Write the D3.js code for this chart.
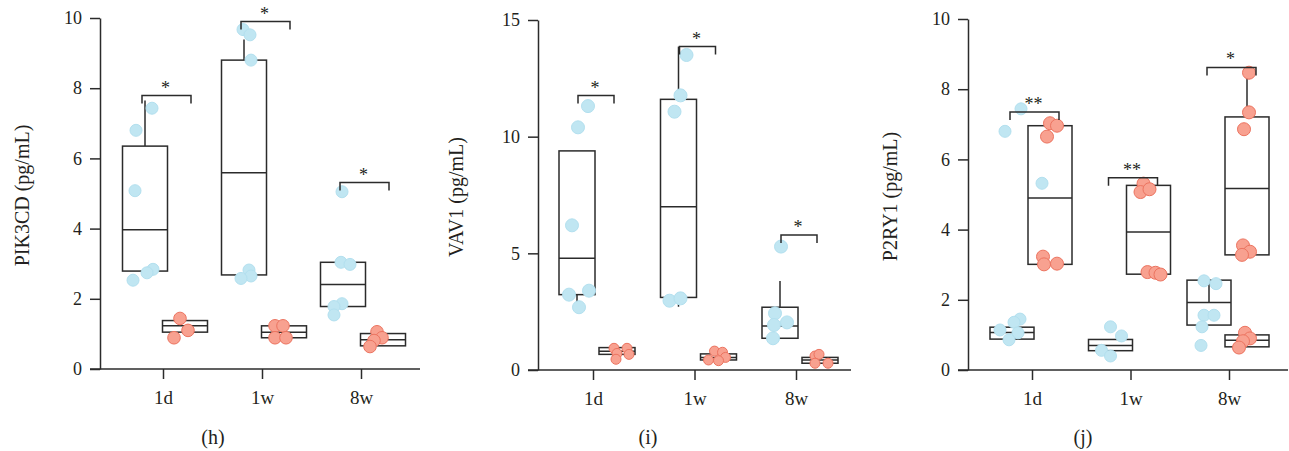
<!DOCTYPE html>
<html>
<head>
<meta charset="utf-8">
<script src="https://cdn.jsdelivr.net/npm/d3@7"></script>
<style>
  body { margin: 0; background: #fff; }
  svg { display: block; }
  text { font-family: "Liberation Serif", "Times New Roman", serif; fill: #231f20; }
</style>
</head>
<body>
<svg id="chart" width="1289" height="451"></svg>
<script>
// ---- data -------------------------------------------------------------
const categories = ["1d", "1w", "8w"];

const pik3cdTicks = [0, 2, 4, 6, 8, 10];
const vav1Ticks = [0, 5, 10, 15];
const p2ry1Ticks = [0, 2, 4, 6, 8, 10];

// boxes: [category, group, q1, median, q3, whiskerLow, whiskerHigh]
const pik3cdBoxes = [
  ["1d", "A", 2.79, 3.97, 6.35, null, 7.65],
  ["1d", "B", 1.05, 1.23, 1.38, null, null],
  ["1w", "A", 2.68, 5.59, 8.80, null, 9.39],
  ["1w", "B", 0.89, 1.05, 1.23, null, null],
  ["8w", "A", 1.78, 2.41, 3.04, null, null],
  ["8w", "B", 0.66, 0.83, 1.01, null, null]
];
const vav1Boxes = [
  ["1d", "A", 3.23, 4.79, 9.39, 2.64, null],
  ["1d", "B", 0.67, 0.80, 0.96, null, null],
  ["1w", "A", 3.11, 7.00, 11.60, 2.71, 13.86],
  ["1w", "B", 0.43, 0.54, 0.69, null, null],
  ["8w", "A", 1.36, 1.89, 2.69, null, 3.81],
  ["8w", "B", 0.29, 0.43, 0.54, null, null]
];
const p2ry1Boxes = [
  ["1d", "A", 0.88, 1.07, 1.22, null, null],
  ["1d", "B", 3.01, 4.90, 6.96, null, null],
  ["1w", "A", 0.55, 0.70, 0.87, null, null],
  ["1w", "B", 2.73, 3.93, 5.26, null, null],
  ["8w", "A", 1.28, 1.92, 2.56, null, 1.92],
  ["8w", "B", 0.66, 0.85, 1.00, null, null],
  ["8w", "B", 3.28, 5.17, 7.21, null, 8.35]
];

// points: [category, group, value, jitter]
const pik3cdPoints = [
  ["1d", "A", 7.43, 7], ["1d", "A", 6.80, -9], ["1d", "A", 5.08, -10],
  ["1d", "A", 2.84, 8], ["1d", "A", 2.74, 2], ["1d", "A", 2.53, -12],
  ["1d", "B", 1.44, -5], ["1d", "B", 1.10, 3], ["1d", "B", 0.89, -11],
  ["1w", "A", 9.67, -1], ["1w", "A", 9.52, 6], ["1w", "A", 8.80, 7],
  ["1w", "A", 2.82, 5], ["1w", "A", 2.65, 7], ["1w", "A", 2.58, -3],
  ["1w", "B", 1.23, -9], ["1w", "B", 1.23, -1], ["1w", "B", 0.89, -9], ["1w", "B", 0.89, 2],
  ["8w", "A", 5.05, -1], ["8w", "A", 3.04, -2], ["8w", "A", 2.98, 7],
  ["8w", "A", 1.86, -1], ["8w", "A", 1.78, -9], ["8w", "A", 1.54, -9],
  ["8w", "B", 1.06, -6], ["8w", "B", 0.89, -1], ["8w", "B", 0.81, -9], ["8w", "B", 0.64, -13]
];
const vav1Points = [
  ["1d", "A", 11.31, 11], ["1d", "A", 10.40, 1], ["1d", "A", 6.20, -5],
  ["1d", "A", 3.23, -8], ["1d", "A", 3.40, 12], ["1d", "A", 2.69, 2],
  ["1d", "B", 0.93, -3], ["1d", "B", 0.93, 10], ["1d", "B", 0.71, 0], ["1d", "B", 0.67, 12], ["1d", "B", 0.46, -1],
  ["1w", "A", 13.50, 8], ["1w", "A", 11.77, 2], ["1w", "A", 11.07, -4],
  ["1w", "A", 2.97, -9], ["1w", "A", 3.07, 2],
  ["1w", "B", 0.81, -4], ["1w", "B", 0.76, 4], ["1w", "B", 0.54, 7], ["1w", "B", 0.43, -10], ["1w", "B", 0.40, 0],
  ["8w", "A", 5.29, 1], ["8w", "A", 2.43, -5], ["8w", "A", 2.04, 7], ["8w", "A", 1.93, -6], ["8w", "A", 1.36, -7],
  ["8w", "B", 0.60, -5], ["8w", "B", 0.67, -1], ["8w", "B", 0.29, -5], ["8w", "B", 0.29, 8]
];
const p2ry1Points = [
  ["1d", "A", 7.44, 9], ["1d", "A", 6.80, -7], ["1d", "A", 5.32, 30],
  ["1d", "A", 1.45, 8], ["1d", "A", 1.36, 2], ["1d", "A", 1.14, -12],
  ["1d", "A", 1.06, 6], ["1d", "A", 0.86, -3],
  ["1d", "B", 7.03, 0], ["1d", "B", 6.96, 7], ["1d", "B", 6.65, -3],
  ["1d", "B", 3.23, -7], ["1d", "B", 3.01, -6], ["1d", "B", 3.03, 7],
  ["1w", "A", 1.23, 0], ["1w", "A", 0.97, 11], ["1w", "A", 0.56, -9], ["1w", "A", 0.40, 0],
  ["1w", "B", 5.31, -5], ["1w", "B", 5.07, -8], ["1w", "B", 5.15, 1],
  ["1w", "B", 2.79, -1], ["1w", "B", 2.77, 7], ["1w", "B", 2.72, 12],
  ["8w", "A", 2.54, -5], ["8w", "A", 2.46, 7], ["8w", "A", 1.56, -5],
  ["8w", "A", 1.56, 5], ["8w", "A", 1.23, -7], ["8w", "A", 0.70, -8],
  ["8w", "B", 1.06, -2], ["8w", "B", 0.90, 3], ["8w", "B", 0.82, -4], ["8w", "B", 0.64, -8],
  ["8w", "B", 8.47, 2], ["8w", "B", 7.34, 2], ["8w", "B", 6.86, -3],
  ["8w", "B", 3.55, -4], ["8w", "B", 3.37, 3], ["8w", "B", 3.28, -5]
];

// significance brackets: [category, height, label]
const pik3cdSig = [["1d", 7.79, "*"], ["1w", 9.90, "*"], ["8w", 5.31, "*"]];
const vav1Sig = [["1d", 11.76, "*"], ["1w", 13.86, "*"], ["8w", 5.79, "*"]];
const p2ry1Sig = [["1d", 7.35, "**"], ["1w", 5.48, "**"], ["8w", 8.62, "*"]];

// ---- layout -----------------------------------------------------------
const panels = [
  { tag: "(h)", title: "PIK3CD (pg/mL)", max: 10, ticks: pik3cdTicks, boxes: pik3cdBoxes,
    points: pik3cdPoints, sig: pik3cdSig,
    axisX: 100, top: 18, bottom: 369, cat0: 163, cat1: 361, xEnd: 420,
    offA: -18, offB: 22, boxW: 45, brA: -21, brB: 28, rA: 6, rB: 6.3, titleX: 29, tagX: 213 },
  { tag: "(i)", title: "VAV1 (pg/mL)", max: 15, ticks: vav1Ticks, boxes: vav1Boxes,
    points: vav1Points, sig: vav1Sig,
    axisX: 538, top: 20, bottom: 370, cat0: 593, cat1: 796, xEnd: 851,
    offA: -16, offB: 24, boxW: 36, brA: -15, brB: 21, rA: 6.5, rB: 5, titleX: 463, tagX: 648 },
  { tag: "(j)", title: "P2RY1 (pg/mL)", max: 10, ticks: p2ry1Ticks, boxes: p2ry1Boxes,
    points: p2ry1Points, sig: p2ry1Sig,
    axisX: 968, top: 19, bottom: 370, cat0: 1032, cat1: 1229, xEnd: 1288,
    offA: -20, offB: 18, boxW: 44, brA: -22, brB: 27, rA: 6, rB: 6.5, titleX: 897, tagX: 1083 }
];

const colors = {
  A: { fill: "#c0e6f2", stroke: "#b3e0ef" },
  B: { fill: "#f8a190", stroke: "#ec7460" }
};
const ink = "#2b2b2b";

const svg = d3.select("#chart");

panels.forEach(p => {
  const g = svg.append("g");
  const y = d3.scaleLinear().domain([0, p.max]).range([p.bottom, p.top]);
  const x = d3.scalePoint().domain(categories).range([p.cat0, p.cat1]);
  const off = { A: p.offA, B: p.offB };
  const rad = { A: p.rA, B: p.rB };
  const cx = (c, grp) => x(c) + off[grp];

  // y axis
  const yAxis = g.append("g")
    .attr("transform", `translate(${p.axisX},0)`)
    .call(d3.axisLeft(y).tickValues(p.ticks).tickSize(10).tickSizeOuter(0).tickPadding(8));
  yAxis.selectAll("path, line").attr("stroke", ink).attr("stroke-width", 1.5);
  yAxis.selectAll("text").attr("font-size", 18).attr("fill", "#231f20")
    .style("font-family", '"Liberation Serif", serif');

  // x axis
  const xAxis = g.append("g")
    .attr("transform", `translate(0,${p.bottom})`)
    .call(d3.axisBottom(x).tickSize(10).tickSizeOuter(0).tickPadding(12));
  xAxis.select(".domain").remove();
  xAxis.selectAll("line").attr("stroke", ink).attr("stroke-width", 1.5);
  xAxis.selectAll("text").attr("font-size", 19).attr("fill", "#231f20")
    .style("font-family", '"Liberation Serif", serif');
  g.append("line")
    .attr("x1", p.axisX - 10).attr("x2", p.xEnd)
    .attr("y1", p.bottom).attr("y2", p.bottom)
    .attr("stroke", ink).attr("stroke-width", 1.5);

  // axis title
  g.append("text")
    .attr("transform", `translate(${p.titleX},${(p.top + p.bottom) / 2 + 2}) rotate(-90)`)
    .attr("text-anchor", "middle")
    .attr("font-size", 20)
    .text(p.title);

  // panel tag
  g.append("text")
    .attr("x", p.tagX).attr("y", 444)
    .attr("text-anchor", "middle")
    .attr("font-size", 20)
    .text(p.tag);

  // whiskers
  p.boxes.forEach(([c, grp, q1, med, q3, lo, hi]) => {
    const xc = cx(c, grp);
    if (hi !== null) {
      g.append("line").attr("x1", xc).attr("x2", xc)
        .attr("y1", y(q3)).attr("y2", y(hi))
        .attr("stroke", ink).attr("stroke-width", 1.5);
    }
    if (lo !== null) {
      g.append("line").attr("x1", xc).attr("x2", xc)
        .attr("y1", y(q1)).attr("y2", y(lo))
        .attr("stroke", ink).attr("stroke-width", 1.5);
    }
  });

  // boxes
  p.boxes.forEach(([c, grp, q1, med, q3]) => {
    const xc = cx(c, grp);
    g.append("rect")
      .attr("x", xc - p.boxW / 2).attr("y", y(q3))
      .attr("width", p.boxW).attr("height", y(q1) - y(q3))
      .attr("fill", "none").attr("stroke", ink).attr("stroke-width", 1.5);
    g.append("line")
      .attr("x1", xc - p.boxW / 2).attr("x2", xc + p.boxW / 2)
      .attr("y1", y(med)).attr("y2", y(med))
      .attr("stroke", ink).attr("stroke-width", 1.5);
  });

  // points
  g.append("g").selectAll("circle")
    .data(p.points)
    .join("circle")
    .attr("cx", d => cx(d[0], d[1]) + d[3])
    .attr("cy", d => y(d[2]))
    .attr("r", d => rad[d[1]])
    .attr("fill", d => colors[d[1]].fill)
    .attr("stroke", d => colors[d[1]].stroke)
    .attr("stroke-width", 1);

  // significance brackets
  p.sig.forEach(([c, h, label]) => {
    const x1 = x(c) + p.brA, x2 = x(c) + p.brB, yy = y(h);
    g.append("path")
      .attr("d", `M${x1},${yy + 8}V${yy}H${x2}V${yy + 8}`)
      .attr("fill", "none").attr("stroke", ink).attr("stroke-width", 1.5);
    g.append("text")
      .attr("x", (x1 + x2) / 2 - 1).attr("y", yy - 2)
      .attr("text-anchor", "middle")
      .attr("font-size", 18)
      .text(label);
  });
});
</script>
</body>
</html>
